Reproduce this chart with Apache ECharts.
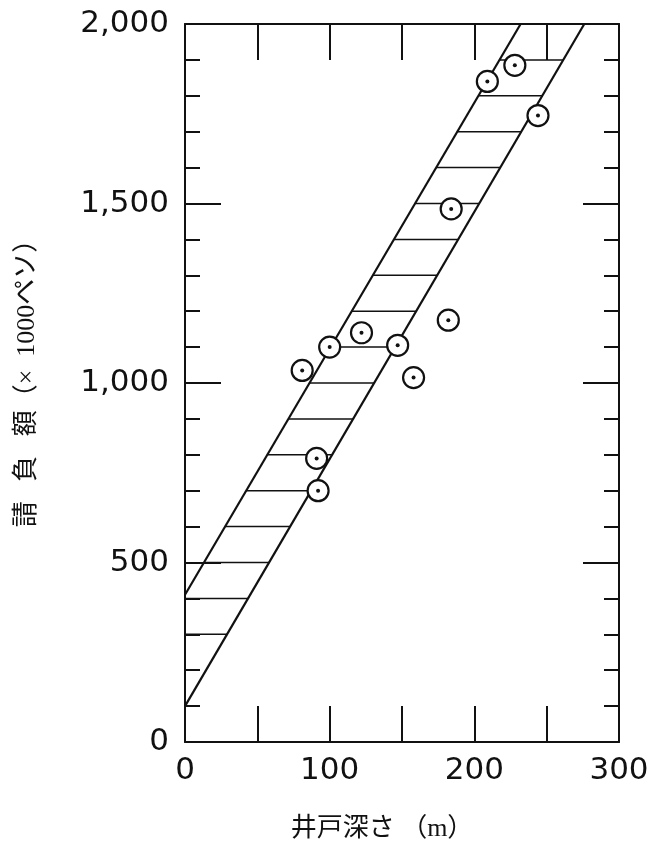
<!DOCTYPE html>
<html>
<head>
<meta charset="utf-8">
<script src="https://cdn.jsdelivr.net/npm/echarts@6/dist/echarts.min.js"></script>
<style>html,body{margin:0;padding:0;background:#fff;}#c{width:656px;height:847px;}</style>
</head>
<body>
<div id="c"></div>
<script>
// Data
var depth   = [81, 91, 92, 100, 122, 147, 158, 182, 184, 209, 228, 244];      // 井戸深さ (m)
var amount  = [1035, 790, 700, 1100, 1140, 1105, 1015, 1175, 1485, 1840, 1885, 1745]; // 請負額 (×1000ペソ)
var upperLine = [[0, 410], [232, 2000]];
var lowerLine = [[0, 100], [276, 2000]];
var hatchLevels = [300, 400, 500, 600, 700, 800, 900, 1000, 1100, 1200, 1300, 1400, 1500, 1600, 1700, 1800, 1900];
var xTicks = [0, 100, 200, 300];
var yTicks = [0, 500, 1000, 1500, 2000];

function xOnLine(line, y) {
  var a = line[0], b = line[1];
  return a[0] + (y - a[1]) * (b[0] - a[0]) / (b[1] - a[1]);
}
function fmt(v) {
  if (v >= 1000) { var r = String(v % 1000); while (r.length < 3) r = '0' + r; return Math.floor(v / 1000) + ',' + r; }
  return String(v);
}

var chart = echarts.init(document.getElementById('c'));
var black = '#111';
var labelFont = {fontFamily: 'DejaVu Sans', fontSize: 31, color: black};

var series = [];
hatchLevels.forEach(function (y) {
  var x1 = Math.max(0, xOnLine(upperLine, y));
  var x2 = xOnLine(lowerLine, y);
  series.push({type: 'line', data: [[x1, y], [x2, y]], symbol: 'none', silent: true,
    lineStyle: {color: black, width: 1.5}, z: 2});
});
series.push({type: 'line', data: upperLine, symbol: 'none', lineStyle: {color: black, width: 2.2}, z: 3});
series.push({type: 'line', data: lowerLine, symbol: 'none', lineStyle: {color: black, width: 2.2}, z: 3});
var pts = depth.map(function (d, i) { return [d, amount[i]]; });
series.push({type: 'scatter', data: pts, symbol: 'circle', symbolSize: 21,
  itemStyle: {color: '#fff', borderColor: black, borderWidth: 2.2, opacity: 1}, z: 5});
series.push({type: 'scatter', data: pts, symbol: 'circle', symbolSize: 4,
  itemStyle: {color: black, opacity: 1}, z: 6});

var axisLine = {show: true, onZero: false, lineStyle: {color: black, width: 2}};
var tick = {show: true, inside: true, length: 36, lineStyle: {color: black, width: 2}};
var minor = {show: true, splitNumber: 5, length: 15, lineStyle: {color: black, width: 2}};
chart.setOption({
  animation: false,
  backgroundColor: '#fff',
  grid: {left: 185, right: 37, top: 24, bottom: 105},
  xAxis: [{
    type: 'value', min: 0, max: 300, interval: 50, position: 'bottom',
    axisLine: axisLine, axisTick: tick,
    axisLabel: Object.assign({margin: 13, formatter: function (v) { return xTicks.indexOf(v) >= 0 ? String(v) : ''; }}, labelFont),
    splitLine: {show: false}
  }, {
    type: 'value', min: 0, max: 300, interval: 50, position: 'top',
    axisLine: axisLine, axisTick: tick,
    axisLabel: {show: false}, splitLine: {show: false}
  }],
  yAxis: [{
    type: 'value', min: 0, max: 2000, interval: 500, position: 'left',
    axisLine: axisLine, axisTick: tick, minorTick: minor,
    axisLabel: Object.assign({margin: 16, formatter: function (v) { return yTicks.indexOf(v) >= 0 ? fmt(v) : ''; }}, labelFont),
    splitLine: {show: false}, minorSplitLine: {show: false}
  }, {
    type: 'value', min: 0, max: 2000, interval: 500, position: 'right',
    axisLine: axisLine, axisTick: tick, minorTick: minor,
    axisLabel: {show: false}, splitLine: {show: false}, minorSplitLine: {show: false}
  }],
  graphic: [{
    type: 'text', x: 27, y: 377, rotation: Math.PI / 2,
    style: {text: '請 \u2002負 \u2002額（×  1000ペソ）', fontSize: 26, fontFamily: "'Liberation Serif','Noto Sans CJK JP'",
      fill: black, align: 'center', verticalAlign: 'middle'}
  }, {
    type: 'text', x: 382, y: 829,
    style: {text: '井戸深さ （m）', fontSize: 26, fontFamily: "'Liberation Serif','Noto Sans CJK JP'",
      fill: black, align: 'center', verticalAlign: 'middle'}
  }],
  series: series
});
</script>
</body>
</html>
